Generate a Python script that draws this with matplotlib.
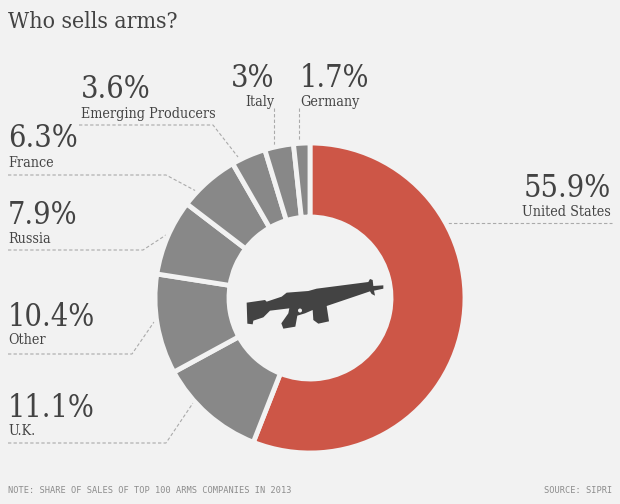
import matplotlib.pyplot as plt
from matplotlib.patches import Circle, Polygon

# share of sales, clockwise from the top
countries = ["United States", "U.K.", "Other", "Russia", "France",
             "Emerging Producers", "Italy", "Germany"]
shares = [55.9, 11.1, 10.4, 7.9, 6.3, 3.6, 3.0, 1.7]
share_labels = ["55.9%", "11.1%", "10.4%", "7.9%", "6.3%", "3.6%", "3%", "1.7%"]
colors = ["#cd5647"] + ["#888888"] * 7

BG = "#f2f2f2"
DARK = "#434343"
W, H = 620, 504

plt.rcParams["font.family"] = ["DejaVu Serif"]
plt.rcParams["font.stretch"] = "condensed"

fig = plt.figure(figsize=(W / 100, H / 100), dpi=100, facecolor=BG)

# overlay in pixel coordinates for text, leaders and the icon
ax = fig.add_axes([0, 0, 1, 1])
ax.set_xlim(0, W)
ax.set_ylim(H, 0)
ax.axis("off")

# donut
cx, cy, r = 310, 298, 155
pie_ax = fig.add_axes([(cx - r) / W, 1 - (cy + r) / H, 2 * r / W, 2 * r / H])
pie_ax.pie(
    shares,
    colors=colors,
    startangle=90,
    counterclock=False,
    radius=1,
    wedgeprops={"width": 74 / r, "edgecolor": BG, "linewidth": 3.5},
)
pie_ax.set_xlim(-1, 1)
pie_ax.set_ylim(-1, 1)

ax.text(8, 28, "Who sells arms?", fontsize=16.5, color=DARK)

# x, percent baseline, name baseline, alignment
label_pos = {
    "United States": (611, 197, 216, "right"),
    "U.K.": (8, 417, 435, "left"),
    "Other": (8, 326, 344, "left"),
    "Russia": (8, 224, 243, "left"),
    "France": (8, 147, 167, "left"),
    "Emerging Producers": (81, 98, 118, "left"),
    "Italy": (274, 87, 106, "right"),
    "Germany": (300, 87, 106, "left"),
}
for name, pct in zip(countries, share_labels):
    x, y1, y2, ha = label_pos[name]
    ax.text(x, y1, pct, fontsize=22, color=DARK, ha=ha)
    ax.text(x, y2, name, fontsize=10.3, color=DARK, ha=ha)

leaders = [
    [(448, 223), (612, 223)],
    [(8, 443), (166, 443), (193, 403)],
    [(8, 354), (132, 354), (154, 322)],
    [(8, 250), (143, 250), (166, 235)],
    [(8, 175), (166, 175), (196, 191)],
    [(79, 125), (213, 125), (238, 157)],
    [(274, 108), (274, 146)],
    [(299, 108), (299, 146)],
]
for pts in leaders:
    xs, ys = zip(*pts)
    ax.plot(xs, ys, color="#aaaaaa", lw=0.8, ls=(0, (3, 2)))

gun = [
    (80, 128), (135, 120), (140, 125), (185, 110), (200, 98), (265, 93),
    (290, 86), (445, 66), (450, 57), (458, 60), (460, 78), (490, 76),
    (490, 86), (462, 92), (465, 107), (455, 102), (450, 94), (320, 138),
    (327, 184), (295, 191), (280, 180), (278, 150), (255, 160), (232, 167),
    (226, 200), (190, 206), (184, 190), (205, 160), (208, 145), (150, 152),
    (130, 172), (100, 182), (98, 193), (82, 191),
]
gun = [(220 + gx / 3, 260 + gy / 3) for gx, gy in gun]
ax.add_patch(Polygon(gun, closed=True, color=DARK, zorder=5, lw=0))
ax.add_patch(Circle((300, 310.5), 2, color=BG, zorder=6, lw=0))

# footer
ax.text(8, 493, "NOTE: SHARE OF SALES OF TOP 100 ARMS COMPANIES IN 2013",
        fontsize=6.2, color="#8c8c8c", family="DejaVu Sans Mono")
ax.text(612, 493, "SOURCE: SIPRI", fontsize=6.2, color="#8c8c8c",
        family="DejaVu Sans Mono", ha="right")

fig.savefig("out.png", dpi=100, facecolor=BG)
